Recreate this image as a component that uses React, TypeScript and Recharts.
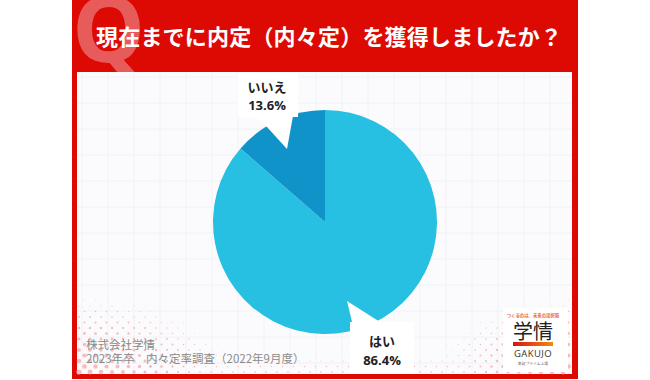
import { PieChart, Pie, Cell } from 'recharts';

const answers = ['はい', 'いいえ'];
const shares = [86.4, 13.6];
const sliceColors = ['#28c0e2', '#0f93c9'];

const titleText = '現在までに内定（内々定）を獲得しましたか？';
const sourceLines = ['株式会社学情', '2023年卒　内々定率調査（2022年9月度）'];

const data = answers.map((name, i) => ({ name, value: shares[i] }));

const JP = '"Noto Sans CJK JP", "Noto Sans", sans-serif';
const LATIN = '"Open Sans", "Noto Sans CJK JP", sans-serif';

// white callout boxes, the tail cuts into the pie
const callouts: Record<string, { box: number[]; tail: string; tx: number; y1: number; y2: number }> = {
  'いいえ': { box: [238, 73, 60, 44], tail: '255,117 267,127 287,149 293,116', tx: 267, y1: 92, y2: 110 },
  'はい': { box: [350, 322, 64, 52], tail: '347,301 380,322 354,330', tx: 382, y1: 346, y2: 365 },
};

function renderCallout(props: any) {
  const c = callouts[props.name];
  if (!c) return null;
  return (
    <g>
      <rect x={c.box[0]} y={c.box[1]} width={c.box[2]} height={c.box[3]} fill="#ffffff" />
      <polygon points={c.tail} fill="#ffffff" />
      <text x={c.tx} y={c.y1} textAnchor="middle" fontSize={13} fontWeight={700} fontFamily={JP} fill="#222222">
        {props.name}
      </text>
      <text x={c.tx} y={c.y2} textAnchor="middle" fontSize={13} fontWeight={700} fontFamily={LATIN} fill="#222222">
        {props.value}%
      </text>
    </g>
  );
}

function Backdrop() {
  const gridX: number[] = [];
  for (let x = 82; x < 572; x += 26) gridX.push(x);
  const gridY: number[] = [];
  for (let y = 77; y < 374; y += 26) gridY.push(y);

  // halftone fading out of the two bottom corners
  const dots: { x: number; y: number; r: number }[] = [];
  let row = 0;
  for (let y = 372; y > 270; y -= 5.5) {
    for (let x = 79 + (row % 2) * 5.5; x < 572; x += 11) {
      const left = 1 - Math.hypot(x - 77, (y - 374) * 2) / 175;
      const right = 1 - Math.hypot(x - 572, (y - 374) * 1.8) / 155;
      const band = 0.35 * (1 - (374 - y) / 30);
      const s = Math.max(left, right, band);
      if (s > 0.08) dots.push({ x, y, r: 2.6 * Math.min(s, 1) });
    }
    row++;
  }

  return (
    <svg width={650} height={380} style={{ position: 'absolute', left: 0, top: 0 }}>
      <defs>
        <linearGradient id="logoBar" x1="0" x2="1" y1="0" y2="0">
          <stop offset="0" stopColor="#d9140f" />
          <stop offset="1" stopColor="#f08a10" />
        </linearGradient>
        <clipPath id="headerClip">
          <rect x={72} y={0} width={506} height={72} />
        </clipPath>
      </defs>
      <rect x={0} y={0} width={650} height={380} fill="#ffffff" />
      <rect x={72} y={0} width={506} height={379} fill="#dd0a04" />
      <rect x={77} y={72} width={495} height={302} fill="#fbfbfd" />
      {gridX.map((x) => (
        <line key={x} x1={x} x2={x} y1={72} y2={374} stroke="#f1f2f8" />
      ))}
      {gridY.map((y) => (
        <line key={y} x1={77} x2={572} y1={y} y2={y} stroke="#f1f2f8" />
      ))}
      {dots.map((d, i) => (
        <circle key={i} cx={d.x} cy={d.y} r={d.r} fill="#f7bcbc" />
      ))}
      <text x={72} y={62} fontSize={92} fontWeight={700} fontFamily={LATIN} fill="#e85b5b" clipPath="url(#headerClip)">
        Q
      </text>
      <text x={96} y={45} fontSize={22} letterSpacing={0.2} fontWeight={700} fontFamily={JP} fill="#ffffff">
        {titleText}
      </text>
      <text x={86} y={349} fontSize={11.5} fontFamily={JP} fill="#8a8a8a">
        {sourceLines[0]}
      </text>
      <text x={86} y={362.5} fontSize={11.5} fontFamily={JP} fill="#8a8a8a">
        {sourceLines[1]}
      </text>
      <rect x={503} y={308} width={65} height={64} fill="#ffffff" />
      <text x={533} y={316.5} textAnchor="middle" fontSize={4.4} fontWeight={700} fontFamily={JP} fill="#ee6a3a">
        つくるのは、未来の選択肢
      </text>
      <text x={533} y={339} textAnchor="middle" fontSize={20} fontFamily={JP} fill="#222222">
        学情
      </text>
      <rect x={513} y={342} width={40} height={4} fill="url(#logoBar)" />
      <text x={533} y={357} textAnchor="middle" fontSize={9.5} letterSpacing={0.4} fontFamily={LATIN} fill="#333333">
        GAKUJO
      </text>
      <text x={533} y={364.5} textAnchor="middle" fontSize={3.8} fontFamily={JP} fill="#666666">
        東証プライム上場
      </text>
    </svg>
  );
}

export default function App() {
  return (
    <div style={{ position: 'fixed', left: 0, top: 0, width: 650, height: 380, overflow: 'hidden' }}>
      <Backdrop />
      <div style={{ position: 'absolute', left: 0, top: 0 }}>
        <PieChart width={650} height={380} margin={{ top: 0, right: 0, bottom: 0, left: 0 }}>
          <Pie
            data={data}
            dataKey="value"
            nameKey="name"
            cx={325}
            cy={222}
            outerRadius={112}
            startAngle={90}
            endAngle={-270}
            stroke="none"
            label={renderCallout}
            labelLine={false}
            isAnimationActive={false}
          >
            {data.map((d, i) => (
              <Cell key={d.name} fill={sliceColors[i]} />
            ))}
          </Pie>
        </PieChart>
      </div>
    </div>
  );
}
